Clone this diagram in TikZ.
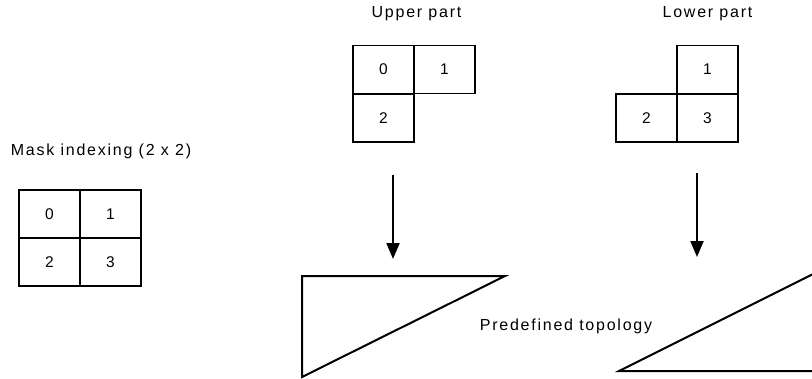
\documentclass[tikz,border=0pt]{standalone}
\usepackage{fontspec}
\setmainfont{Liberation Sans}
\newfontfamily\trk[LetterSpace=11]{Liberation Sans}
\usetikzlibrary{arrows.meta}
\begin{document}
\begin{tikzpicture}[x=1pt,y=-1pt,
  cell/.style={draw,line width=1.6pt,minimum width=61pt,minimum height=48pt,inner sep=0pt,font=\fontsize{15.5}{18}\selectfont},
  lbl/.style={inner sep=0pt,font=\trk\fontsize{16}{18}\selectfont},
  arr/.style={line width=2pt,-{Triangle[length=16pt,width=13pt]}},
  tri/.style={line width=2pt,line join=miter}]
\clip (0,0) rectangle (812,378);
% Mask indexing
\node[lbl] (mtitle) at (101,151) {Mask indexing (2 x 2)};
\node[cell] (m0) at (49.5,214) {0};
\node[cell] (m1) at (110.5,214) {1};
\node[cell] (m2) at (49.5,262) {2};
\node[cell] (m3) at (110.5,262) {3};
% Upper part
\node[lbl] (utitle) at (416.5,14) {Upper part};
\node[cell] (u0) at (383.5,69.5) {0};
\node[cell] (u1) at (444.5,69.5) {1};
\node[cell] (u2) at (383.5,118) {2};
% Lower part
\node[lbl] (ltitle) at (707.5,14) {Lower part};
\node[cell] (l1) at (707.5,69.5) {1};
\node[cell] (l3) at (707.5,118) {3};
\node[cell] (l2) at (646.5,118) {2};
% arrows
\coordinate (ua) at (393,175);
\coordinate (ub) at (393,259);
\coordinate (la) at (697,173);
\coordinate (lb) at (697,257);
\draw[arr] (ua) -- (ub);
\draw[arr] (la) -- (lb);
% triangles
\coordinate (t1a) at (302,276);
\coordinate (t1b) at (505,276);
\coordinate (t1c) at (302,377);
\draw[tri] (t1a) -- (t1b) -- (t1c) -- cycle;
\coordinate (t2a) at (619,371);
\coordinate (t2b) at (815,273);
\coordinate (t2c) at (815,371);
\draw[tri] (t2a) -- (t2b) -- (t2c) -- cycle;
\node[lbl] (topo) at (566,326) {Predefined topology};
\end{tikzpicture}
\end{document}
